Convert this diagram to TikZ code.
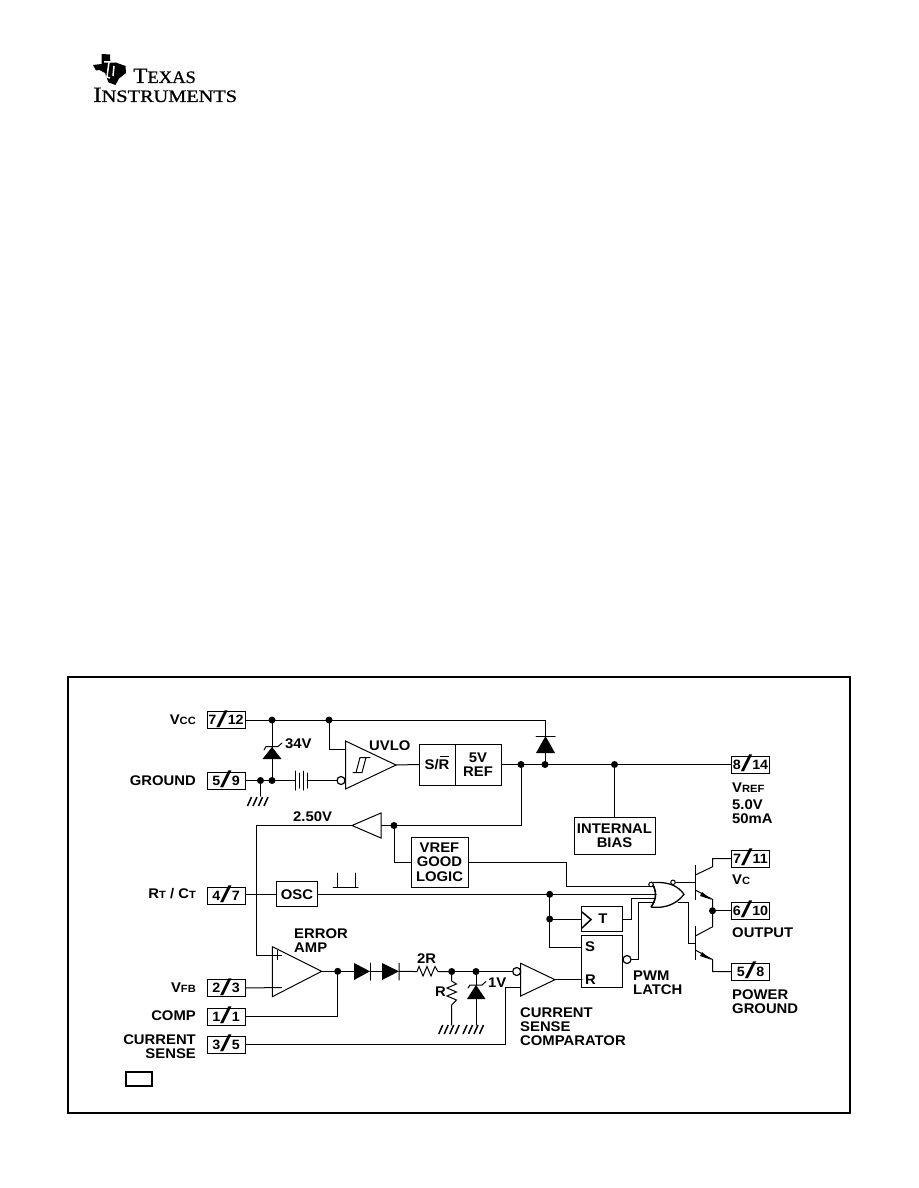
\documentclass[tikz,border=0pt]{standalone}
\usepackage{fontspec}
\usepackage{graphicx}
\setmainfont[FakeStretch=1.06]{Liberation Sans}
\newfontfamily\logofont[FakeBold=0.8]{Liberation Serif}
\newcommand{\fs}[1]{{\fontsize{10.5}{11}\selectfont #1}}
\newcommand{\slsh}{\raisebox{-2.4pt}[0pt][0pt]{\fontsize{23}{23}\selectfont\mdseries\scalebox{1.7}[1]{/}}}
\tikzset{
 wire/.style={line width=1pt,line cap=round,line join=miter},
 pinbox/.style={draw,line width=1pt,minimum width=38pt,minimum height=17pt,inner sep=0pt,font=\bfseries\fontsize{13.5}{14}\selectfont},
 blockbox/.style={draw,line width=1pt,inner sep=0pt,align=center,font=\bfseries\fontsize{14}{14.5}\selectfont},
 lbl/.style={inner sep=0pt,font=\bfseries\fontsize{14}{14.5}\selectfont,align=left},
 lblr/.style={lbl,anchor=east},
 lbll/.style={lbl,anchor=west},
 dotnode/.style={circle,fill=black,inner sep=0pt,minimum size=7pt},
 bubble/.style={circle,draw,fill=white,line width=1.2pt,inner sep=0pt,minimum size=8pt},
 tinybubble/.style={circle,draw,fill=white,line width=1pt,inner sep=0pt,minimum size=4.5pt},
 gate/.style={wire,fill=white},
 hatchlines/.pic={\draw[line width=1.5pt] (-13,9)--(-9,0) (-7.5,9)--(-3.5,0) (-2,9)--(2,0) (3.5,9)--(7.5,0);}
}
\begin{document}
\begin{tikzpicture}[x=1pt,y=-1pt]
\useasboundingbox (0,0) rectangle (918,1188);
% logo
\fill (101.5,54) -- (110,54.5) -- (110,60.5) -- (125.5,66) -- (126,73) -- (119,78.5) -- (115.5,85) -- (108.5,82.5) -- (105,73) -- (99.5,70) -- (96,70.5) -- (93,65) -- (101.5,64) -- cycle;
\draw[white,line width=1.5pt] (109,62)--(107,77)--(110,78) (104,62)--(115,62)  (114,66)--(113,76) ;
\node[inner sep=0pt,anchor=base west,font=\logofont] (logo1) at (133,83) {\scalebox{1.06}[1]{\fontsize{22}{22}\selectfont T\fontsize{17.5}{18}\selectfont EXAS}};
\node[inner sep=0pt,anchor=base west,font=\logofont] (logo2) at (93,102) {\scalebox{1.16}[1]{\fontsize{22}{22}\selectfont I\fontsize{17.5}{18}\selectfont NSTRUMENTS}};
% frame
\draw[line width=1.3pt] (68,677) rectangle (850,1113);
% pins
\node[pinbox] (p712) at (226,720) {7\slsh12};
\node[pinbox] (p59) at (226,780.5) {5\slsh9};
\node[pinbox] (p47) at (226,895.5) {4\slsh7};
\node[pinbox] (p23) at (226,988) {2\slsh3};
\node[pinbox] (p11) at (226,1016.5) {1\slsh1};
\node[pinbox] (p35) at (226,1044.5) {3\slsh5};
\node[pinbox] (p814) at (750.5,764.5) {8\slsh14};
\node[pinbox] (p711) at (750.5,858.5) {7\slsh11};
\node[pinbox] (p610) at (750.5,910.7) {6\slsh10};
\node[pinbox] (p58) at (750.5,971.7) {5\slsh8};
% left labels
\node[lblr] (lvcc) at (196,720) {V\fs{CC}};
\node[lblr] (lgnd) at (196,780.5) {GROUND};
\node[lblr] (lrt) at (196,894) {R\fs{T} / C\fs{T}};
\node[lblr] (lvfb) at (196,987.5) {V\fs{FB}};
\node[lblr] (lcomp) at (196,1016) {COMP};
\node[lblr,align=right] (lcs) at (196,1046.5) {CURRENT\\[-.5pt]SENSE};
\node[draw,line width=1.4pt,minimum width=26pt,minimum height=14pt,inner sep=0pt] (legend) at (139,1079) {};
% right labels
\node[lbll] (lvref) at (732,788) {V\fs{REF}};
\node[lbll] (l50) at (732,812) {5.0V\\[-.5pt]50mA};
\node[lbll] (lvc) at (732,880) {V\fs{C}};
\node[lbll] (lout) at (732,933) {OUTPUT};
\node[lbll] (lpg) at (732,1001.5) {POWER\\[-.5pt]GROUND};
% blocks
\node[blockbox,minimum width=36pt,minimum height=41pt] (sr) at (437,764.5) {\raisebox{-2.5pt}{S/R}};
\draw[line width=1pt] (440,756) -- (449,756);
\node[blockbox,minimum width=46pt,minimum height=41pt] (ref) at (478,764.5) {5V\\REF};
\node[blockbox,minimum width=81pt,minimum height=37pt] (bias) at (614.5,835.5) {INTERNAL\\BIAS};
\node[blockbox,minimum width=57pt,minimum height=50pt] (good) at (439.5,862) {VREF\\GOOD\\LOGIC};
\node[blockbox,minimum width=40.5pt,minimum height=25pt] (osc) at (297,894.3) {OSC};
\node[blockbox,minimum width=41pt,minimum height=24.5pt] (tff) at (602,919) {\hspace{2pt}T};
\node[draw,line width=1pt,minimum width=41pt,minimum height=52pt,inner sep=0pt] (latch) at (602,961) {};
\node[lbll] (ls) at (585,947) {S};
\node[lbll] (lr) at (585,979.5) {R};
% text labels
\node[lbll] (l34) at (285,744) {34V};
\node[lbll] (luvlo) at (369,746) {UVLO};
\node[lbll] (l250) at (293,817) {2.50V};
\node[lbll] (lerr) at (294,941) {ERROR\\[-.5pt]AMP};
\node[lbll] (l2r) at (417,959) {2R};
\node[lbll] (lR) at (435,992) {R};
\node[lbll] (l1v) at (488,983) {1V};
\node[lbll] (lcsc) at (520,1026.5) {CURRENT\\[-.5pt]SENSE\\[-.5pt]COMPARATOR};
\node[lbll] (lpwm) at (633,983) {PWM\\[-.5pt]LATCH};
% junction coordinates
\coordinate (a1) at (272,720); \coordinate (a2) at (329,720); \coordinate (a3) at (545,720);
\coordinate (b1) at (260.5,780.5); \coordinate (b2) at (272,780.5); \coordinate (b3) at (295,780.5); \coordinate (b4) at (307,780.5);
\coordinate (c1) at (521,764.5); \coordinate (c2) at (545,764.5); \coordinate (c3) at (614.5,764.5);
\coordinate (d1) at (521,825.5); \coordinate (d2) at (394,825.5); \coordinate (d3) at (381,825.5); \coordinate (d4) at (352,825.5); \coordinate (d5) at (256,825.5);
\coordinate (e1) at (549.7,894.3); \coordinate (e2) at (549.7,919); \coordinate (e3) at (337.7,971.3);
\coordinate (f1) at (451.7,971.5); \coordinate (f2) at (476,971.5); \coordinate (o1) at (712.5,910.7);
% Vcc rail
\draw[wire] (p712.east) -- (a3) -- (545,736);
\draw[wire] (a2) |- (345.5,749);
% zener 34V
\draw[wire] (a1) -- (b2);
\fill (272,747) -- (281.5,759) -- (262.5,759) -- cycle;
\draw[wire] (264,750) -- (266,746.5) -- (278,746.5) -- (282,743);
% ground
\draw[wire] (p59.east) -- (b3);
\draw[wire] (295,771) -- (295,790) (299,773)--(299,788) (303,771)--(303,790) (307,773)--(307,788);
\draw[wire] (b4) -- (337,780.5);
\draw[wire] (b1) -- (260.5,796);
\pic at (260.5,797) {hatchlines};
% UVLO
\draw[gate] (345.5,741) -- (396,765) -- (345.5,789) -- cycle;
\node[bubble] (uvb) at (341,780.5) {};
\draw[wire] (353,772.5) -- (362,772.5) -- (366,757.5) -- (370,757.5) (356,772.5) -- (360,757.5) -- (366,757.5);
% UVLO to SR
\draw[wire] (396,765) -- (sr.west);
\draw[wire] (ref.east) -- (p814.west);
% diode
\draw[wire] (536,736) -- (555,736);
\fill (545.5,736) -- (555,753) -- (536,753) -- cycle;
\draw[wire] (545,753) -- (c2);
% 5V out
\draw[wire] (c1) -- (d1) -- (d3);
\draw[wire] (c3) -- (bias.north);
% buffer
\draw[gate] (d3 |- 0,813) -- (d4) -- (d3 |- 0,838) -- cycle;
\draw[wire] (d2) |- (good.west);
\draw[wire] (d4) -- (d5) -- (256,955.5) -- (281.5,955.5);
% good to gate
\draw[wire] (good.east) -- (566,862) -- (566,886.5) -- (654,886.5);
% osc
\draw[wire] (p47.east |- osc.west) -- (osc.west);
\draw[wire] (osc.east) -- (656,894.3);
\draw[wire] (333,887) -- (358,887) (337,887) -- (337,873) (355,887) -- (355,873);
% clock lines
\draw[wire] (e1) -- (549.7,947) -- (latch.west |- 549.7,947);
\draw[wire] (e2) -- (tff.west);
\draw[line width=1.5pt] (582,912) -- (591,919.5) -- (582,928);
% T out
\draw[wire] (tff.east) -- (631,919) -- (631,898) -- (655,898);
% Q bar
\node[bubble] (qb) at (627,959.5) {};
\draw[wire] (qb.east) -- (638,959.5) -- (638,902) -- (654,902);
% XOR gate
\draw[line width=1.6pt] (651,907) .. controls (657,899) and (657,890) .. (651,882);
\draw[line width=1.3pt] (653,882.5) -- (660,882.5) .. controls (670,883) and (678,886) .. (684,894.3) .. controls (678,902) and (668,909) .. (651,907);
\node[tinybubble] (xb1) at (651,884.5) {};
\node[tinybubble] (xb2) at (673,882.3) {};
\draw[wire] (xb2.east) -- (695.3,882.3);
\draw[wire] (678,902) -- (688,902) -- (688,943) -- (695.3,943);
% transistors
\draw[line width=1.4pt] (695.3,865) -- (695.3,900) (695.3,926) -- (695.3,960);
\draw[wire] (695.3,875) -- (712.7,866.7) -- (712.7,858.5) -- (p711.west);
\draw[wire] (695.3,890) -- (712.7,899.5) -- (o1) -- (712.7,926.7) -- (695.3,936);
\draw[wire] (o1) -- (p610.west);
\draw[wire] (695.3,950) -- (712.7,959.7) -- (712.7,971.7) -- (p58.west);
\fill (711,899.5) -- (702,892) -- (700,896) -- cycle;
\fill (711,959.7) -- (702,952) -- (700,956) -- cycle;
% error amp
\draw[wire] (p23.east) -- (281.7,987.5);
\draw[wire] (272.3,946.7) -- (321.7,971.3) -- (272.3,996.7) -- cycle;
\draw[wire] (277.7,950) -- (277.7,959.5);
\draw[wire] (321.7,971.3) -- (354,971.3);
\fill (354,963) -- (370,971.3) -- (354,980) -- cycle;
\draw[wire] (370,963) -- (370,980) (370,971.3) -- (382,971.3);
\fill (382,963) -- (399,971.3) -- (382,980) -- cycle;
\draw[wire] (399,963) -- (399,980) (399,971.3) -- (414,971.5);
\draw[wire] (p11.east) -- (337.7,1016.5) -- (e3);
% 2R
\draw[wire] (414,971.5) -- (417,971.5) -- (419,966.5) -- (423,976) -- (427,966.5) -- (431,976) -- (435,966.5) -- (438,971.5) -- (f1);
% R
\draw[wire] (f1) -- (451.7,981) -- (456.5,984) -- (447,988) -- (456.5,992) -- (447,996) -- (456.5,1000) -- (451.7,1005) -- (451.7,1025);
\pic at (451.7,1025) {hatchlines};
% zener 1V
\draw[wire] (f2) -- (476,1025);
\fill (476,985) -- (485.5,999) -- (467,999) -- cycle;
\draw[wire] (468,988) -- (470,985) -- (482,985) -- (486,981.5);
\pic at (476,1025) {hatchlines};
\draw[wire] (f1) -- (f2) -- (513,971.5);
% comparator
\draw[gate] (520.7,963.3) -- (555,979.7) -- (520.7,996) -- cycle;
\node[bubble] (cb) at (516.7,971.5) {};
\draw[wire] (555,979.7) -- (582,979.7);
\draw[wire] (p35.east) -- (505,1044.5) -- (505,987.3) -- (520.7,987.3);
% dots
\foreach \n/\p in {ja1/a1,ja2/a2,jb1/b1,jb2/b2,jc1/c1,jc2/c2,jc3/c3,jd2/d2,je1/e1,je2/e2,je3/e3,jf1/f1,jf2/f2,jo1/o1}{\node[dotnode] (\n) at (\p) {};}
\end{tikzpicture}
\end{document}
